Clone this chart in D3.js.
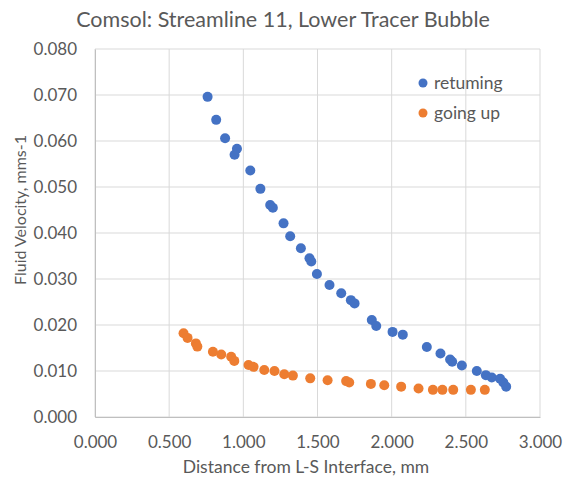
<!DOCTYPE html>
<html>
<head>
<meta charset="utf-8">
<script src="https://cdn.jsdelivr.net/npm/d3@7"></script>
<style>
  body { margin: 0; background: #fff; }
  text { font-family: Lato, "Open Sans", sans-serif; fill: #595959; }
</style>
</head>
<body>
<script>
// returning (blue) points: distance (mm), velocity (mm/s)
const returningX = [0.759, 0.817, 0.877, 0.957, 0.941, 1.047, 1.115, 1.181, 1.199, 1.271, 1.316,
  1.388, 1.446, 1.458, 1.496, 1.581, 1.660, 1.725, 1.750, 1.866, 1.896, 2.006, 2.075,
  2.237, 2.329, 2.394, 2.408, 2.473, 2.574, 2.635, 2.675, 2.731, 2.753, 2.772];
const returningY = [0.0696, 0.0646, 0.0606, 0.0583, 0.0570, 0.0536, 0.0496, 0.0461, 0.0455, 0.0421, 0.0393,
  0.0367, 0.0345, 0.0338, 0.0311, 0.0287, 0.0269, 0.0254, 0.0247, 0.0211, 0.0198, 0.0185, 0.0179,
  0.0152, 0.0138, 0.0125, 0.0120, 0.0112, 0.0100, 0.0091, 0.0086, 0.0083, 0.0075, 0.0066];

// going up (orange) points
const goingUpX = [0.597, 0.624, 0.680, 0.690, 0.795, 0.851, 0.918, 0.939, 1.035, 1.069, 1.141, 1.210,
  1.276, 1.334, 1.451, 1.568, 1.693, 1.714, 1.860, 1.950, 2.064, 2.181, 2.278, 2.342, 2.415, 2.534, 2.628];
const goingUpY = [0.0182, 0.0172, 0.0160, 0.0153, 0.0142, 0.0136, 0.0131, 0.0122, 0.0113, 0.0109, 0.0102, 0.0100,
  0.0093, 0.0090, 0.0084, 0.0080, 0.0078, 0.0075, 0.0072, 0.0069, 0.0066, 0.0062, 0.0059, 0.0059, 0.0059, 0.0059, 0.0059];

const xTicks = [0, 0.5, 1.0, 1.5, 2.0, 2.5, 3.0];
const yTicks = [0, 0.01, 0.02, 0.03, 0.04, 0.05, 0.06, 0.07, 0.08];

const seriesNames = ["retuming", "going up"];
const colors = ["#4472C4", "#ED7D31"];

const width = 576, height = 481;
const margin = { top: 49, right: 36, bottom: 64, left: 95 };

const svg = d3.select("body").append("svg")
  .attr("width", width)
  .attr("height", height);

const x = d3.scaleLinear()
  .domain([0, 3])
  .range([margin.left, width - margin.right]);

const y = d3.scaleLinear()
  .domain([0, 0.08])
  .range([height - margin.bottom, margin.top]);

// gridlines
svg.append("g")
  .selectAll("line")
  .data(yTicks)
  .join("line")
    .attr("x1", x(0)).attr("x2", x(3))
    .attr("y1", d => y(d)).attr("y2", d => y(d))
    .attr("stroke", "#d9d9d9");

svg.append("g")
  .selectAll("line")
  .data(xTicks)
  .join("line")
    .attr("x1", d => x(d)).attr("x2", d => x(d))
    .attr("y1", y(0)).attr("y2", y(0.08))
    .attr("stroke", "#d9d9d9");

// axes
const xAxis = svg.append("g")
  .attr("transform", `translate(0,${y(0)})`)
  .call(d3.axisBottom(x).tickValues(xTicks).tickFormat(d3.format(".3f")).tickSize(0).tickPadding(19));
xAxis.select(".domain").attr("stroke", "#bfbfbf");
xAxis.selectAll("text").style("font-size", "17px");

const yAxis = svg.append("g")
  .attr("transform", `translate(${x(0)},0)`)
  .call(d3.axisLeft(y).tickValues(yTicks).tickFormat(d3.format(".3f")).tickSize(0).tickPadding(18));
yAxis.select(".domain").attr("stroke", "#bfbfbf");
yAxis.selectAll("text").style("font-size", "17px");

// points
const series = [
  returningX.map((d, i) => [d, returningY[i]]),
  goingUpX.map((d, i) => [d, goingUpY[i]])
];

series.forEach((pts, k) => {
  svg.append("g")
    .selectAll("circle")
    .data(pts)
    .join("circle")
      .attr("cx", d => x(d[0]))
      .attr("cy", d => y(d[1]))
      .attr("r", 5)
      .attr("fill", colors[k]);
});

// title
svg.append("text")
  .attr("x", 283)
  .attr("y", 27)
  .attr("text-anchor", "middle")
  .style("font-size", "21.5px")
  .text("Comsol: Streamline 11, Lower Tracer Bubble");

// axis titles
svg.append("text")
  .attr("x", 306)
  .attr("y", 473)
  .attr("text-anchor", "middle")
  .style("font-size", "17.5px")
  .text("Distance from L-S Interface, mm");

svg.append("text")
  .attr("transform", "translate(26,210) rotate(-90)")
  .attr("text-anchor", "middle")
  .style("font-size", "16px")
  .text("Fluid Velocity, mms-1");

// legend
const legend = svg.append("g");
seriesNames.forEach((name, i) => {
  legend.append("circle")
    .attr("cx", 423)
    .attr("cy", 83 + i * 30)
    .attr("r", 4.5)
    .attr("fill", colors[i]);
  legend.append("text")
    .attr("x", 434)
    .attr("y", 83 + i * 30 + 6)
    .style("font-size", "17.5px")
    .text(name);
});
</script>
</body>
</html>
